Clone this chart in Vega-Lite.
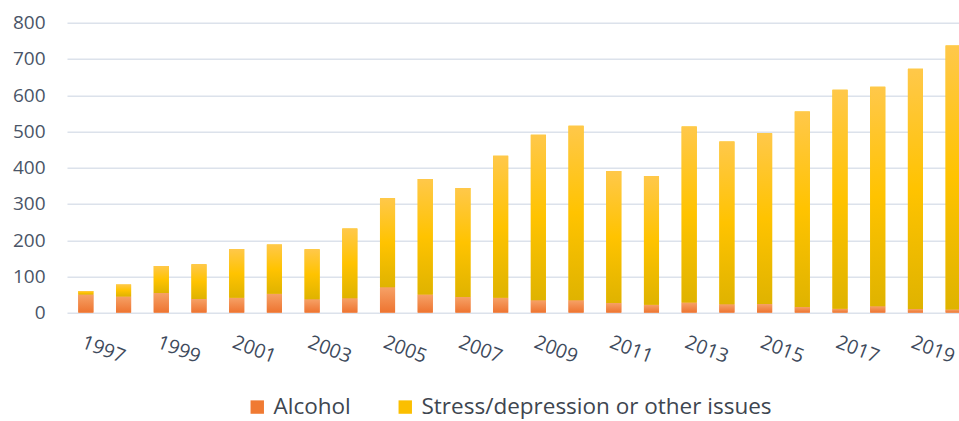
{
  "$schema": "https://vega.github.io/schema/vega-lite/v6.json",
  "autosize": "none",
  "width": 892,
  "height": 290,
  "padding": {"left": 67, "top": 22.7, "right": 0, "bottom": 108.3},
  "background": "white",
  "config": {
    "view": {"stroke": null},
    "font": "Open Sans"
  },
  "data": {
    "values": [
      {"year": 1997, "category": "Alcohol", "value": 50},
      {"year": 1997, "category": "Stress/depression or other issues", "value": 10},
      {"year": 1998, "category": "Alcohol", "value": 45},
      {"year": 1998, "category": "Stress/depression or other issues", "value": 33},
      {"year": 1999, "category": "Alcohol", "value": 54},
      {"year": 1999, "category": "Stress/depression or other issues", "value": 75},
      {"year": 2000, "category": "Alcohol", "value": 38},
      {"year": 2000, "category": "Stress/depression or other issues", "value": 96},
      {"year": 2001, "category": "Alcohol", "value": 41},
      {"year": 2001, "category": "Stress/depression or other issues", "value": 135},
      {"year": 2002, "category": "Alcohol", "value": 52},
      {"year": 2002, "category": "Stress/depression or other issues", "value": 136},
      {"year": 2003, "category": "Alcohol", "value": 37},
      {"year": 2003, "category": "Stress/depression or other issues", "value": 138},
      {"year": 2004, "category": "Alcohol", "value": 40},
      {"year": 2004, "category": "Stress/depression or other issues", "value": 192},
      {"year": 2005, "category": "Alcohol", "value": 70},
      {"year": 2005, "category": "Stress/depression or other issues", "value": 246},
      {"year": 2006, "category": "Alcohol", "value": 50},
      {"year": 2006, "category": "Stress/depression or other issues", "value": 319},
      {"year": 2007, "category": "Alcohol", "value": 43},
      {"year": 2007, "category": "Stress/depression or other issues", "value": 301},
      {"year": 2008, "category": "Alcohol", "value": 41},
      {"year": 2008, "category": "Stress/depression or other issues", "value": 392},
      {"year": 2009, "category": "Alcohol", "value": 34},
      {"year": 2009, "category": "Stress/depression or other issues", "value": 457},
      {"year": 2010, "category": "Alcohol", "value": 34},
      {"year": 2010, "category": "Stress/depression or other issues", "value": 482},
      {"year": 2011, "category": "Alcohol", "value": 27},
      {"year": 2011, "category": "Stress/depression or other issues", "value": 364},
      {"year": 2012, "category": "Alcohol", "value": 22},
      {"year": 2012, "category": "Stress/depression or other issues", "value": 355},
      {"year": 2013, "category": "Alcohol", "value": 28},
      {"year": 2013, "category": "Stress/depression or other issues", "value": 486},
      {"year": 2014, "category": "Alcohol", "value": 23},
      {"year": 2014, "category": "Stress/depression or other issues", "value": 449},
      {"year": 2015, "category": "Alcohol", "value": 24},
      {"year": 2015, "category": "Stress/depression or other issues", "value": 471},
      {"year": 2016, "category": "Alcohol", "value": 16},
      {"year": 2016, "category": "Stress/depression or other issues", "value": 539},
      {"year": 2017, "category": "Alcohol", "value": 11},
      {"year": 2017, "category": "Stress/depression or other issues", "value": 604},
      {"year": 2018, "category": "Alcohol", "value": 18},
      {"year": 2018, "category": "Stress/depression or other issues", "value": 605},
      {"year": 2019, "category": "Alcohol", "value": 10},
      {"year": 2019, "category": "Stress/depression or other issues", "value": 663},
      {"year": 2020, "category": "Alcohol", "value": 9},
      {"year": 2020, "category": "Stress/depression or other issues", "value": 728}
    ]
  },
  "transform": [
    {"stack": "value", "groupby": ["year"], "sort": [{"field": "category", "order": "ascending"}], "as": ["v0", "v1"]}
  ],
  "encoding": {
    "x": {
      "field": "year",
      "type": "ordinal",
      "scale": {"range": [0, 905], "paddingInner": 0.6, "paddingOuter": 0.3},
      "axis": {
        "title": null,
        "values": [1997, 1999, 2001, 2003, 2005, 2007, 2009, 2011, 2013, 2015, 2017, 2019],
        "domain": false,
        "ticks": false,
        "labelAngle": 21,
        "labelAlign": "left",
        "labelBaseline": "top",
        "labelPadding": 20,
        "labelFontSize": 19.5,
        "labelColor": "#3e4a5c",
        "labelFont": "Open Sans",
        "grid": false
      }
    },
    "y": {
      "field": "v0",
      "type": "quantitative",
      "scale": {"domain": [0, 800], "nice": false},
      "axis": {
        "title": null,
        "values": [0, 100, 200, 300, 400, 500, 600, 700, 800],
        "domain": false,
        "ticks": false,
        "labelPadding": 22,
        "labelFontSize": 19,
        "labelColor": "#4a5567",
        "labelFont": "Open Sans",
        "grid": true,
        "gridColor": "#dce2eb",
        "gridWidth": 1.5
      }
    },
    "y2": {"field": "v1"}
  },
  "layer": [
    {
      "mark": {"type": "bar", "clip": true},
      "encoding": {
        "color": {
          "field": "category",
          "type": "nominal",
          "scale": {"domain": ["Alcohol", "Stress/depression or other issues"], "range": ["#f07a32", "#fbbf00"]},
          "legend": {
            "title": null,
            "orient": "none",
            "direction": "horizontal",
            "legendX": 179,
            "legendY": 373,
            "symbolType": "square",
            "symbolSize": 180,
            "symbolStrokeWidth": 0,
            "labelFontSize": 22.5,
            "labelFont": "Open Sans",
            "labelColor": "#3e4650",
            "labelOffset": 5,
            "labelLimit": 1000,
            "columnPadding": 43
          }
        }
      }
    },
    {
      "transform": [{"filter": "datum.category === 'Alcohol'"}],
      "mark": {
        "type": "bar",
        "clip": true,
        "color": {
          "gradient": "linear",
          "x1": 0, "y1": 0, "x2": 0, "y2": 1,
          "stops": [
            {"offset": 0, "color": "#f6a166"},
            {"offset": 1, "color": "#ee7430"}
          ]
        }
      }
    },
    {
      "transform": [{"filter": "datum.category !== 'Alcohol'"}],
      "mark": {
        "type": "bar",
        "clip": true,
        "color": {
          "gradient": "linear",
          "x1": 0, "y1": 0, "x2": 0, "y2": 1,
          "stops": [
            {"offset": 0, "color": "#ffc84a"},
            {"offset": 0.5, "color": "#ffc300"},
            {"offset": 1, "color": "#dfb300"}
          ]
        }
      }
    }
  ]
}
